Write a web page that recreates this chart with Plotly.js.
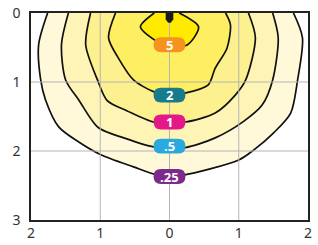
<!DOCTYPE html>
<html>
<head>
<meta charset="utf-8">
<script src="https://cdn.plot.ly/plotly-3.0.1.min.js"></script>
<style>html,body{margin:0;padding:0;background:#fff}#chart{width:318px;height:245px}</style>
</head>
<body>
<div id="chart"></div>
<script>
// ---- data ----
const xTickVals = [-2, -1, 0, 1, 2];
const xTickText = ['2', '1', '0', '1', '2'];
const yTickVals = [0, 1, 2, 3];
const yTickText = ['0', '1', '2', '3'];

const levelNames = ['.25', '.5', '1', '2', '5'];

const c025x = [-1.76, -1.89, -1.86, -1.79, -1.60, -1.31, -1.00, -0.52, -0.17, 0, 0.20, 1.00, 1.21, 1.50, 1.75, 1.85, 1.92, 1.79];
const c025y = [0, 0.46, 0.97, 1.26, 1.65, 1.87, 2.05, 2.23, 2.35, 2.36, 2.35, 2.13, 1.99, 1.74, 1.45, 0.97, 0.36, 0];

const c05x = [-1.46, -1.56, -1.50, -1.31, -1.03, -0.66, -0.23, 0, 0.23, 0.66, 1.07, 1.34, 1.49, 1.57, 1.49];
const c05y = [0, 0.46, 0.97, 1.26, 1.66, 1.81, 1.94, 1.94, 1.95, 1.81, 1.57, 1.33, 0.97, 0.36, 0];

const c1x = [-1.14, -1.21, -1.04, -0.90, -0.61, -0.23, 0, 0.23, 0.66, 0.95, 1.10, 1.24, 1.14];
const c1y = [0, 0.46, 0.97, 1.27, 1.42, 1.58, 1.58, 1.58, 1.45, 1.19, 0.97, 0.36, 0];

const c2x = [-0.78, -0.88, -0.74, -0.52, -0.23, 0, 0.23, 0.56, 0.66, 0.83, 0.88, 0.81];
const c2y = [0, 0.36, 0.65, 0.97, 1.14, 1.19, 1.16, 1.04, 0.80, 0.51, 0.17, 0];

const c5x = [-0.22, -0.42, -0.17, 0, 0.26, 0.42, 0.14];
const c5y = [0, 0.20, 0.42, 0.48, 0.46, 0.20, 0];

const labelX = [0, 0, 0, 0, 0];
const labelY = [2.37, 1.93, 1.58, 1.19, 0.46];

// ---- styles ----
const fillColors = ['#FFF9DA', '#FEF4B6', '#FDF08E', '#FEEE62', '#FFEA00'];
const badgeColors = ['#7D2B8B', '#29A9E0', '#E5188A', '#177B8C', '#F6921E'];

const xs = [c025x, c05x, c1x, c2x, c5x];
const ys = [c025y, c05y, c1y, c2y, c5y];

const traces = xs.map((x, i) => ({
  type: 'scatter', mode: 'lines', x: x, y: ys[i],
  fill: 'toself', fillcolor: fillColors[i],
  line: {color: '#111', width: 1.7, shape: 'spline', smoothing: 0.8},
  hoverinfo: 'skip', showlegend: false, name: levelNames[i]
}));

const shapes = [];
// gridlines drawn over the fills
[-1, 0, 1].forEach(v => shapes.push({type: 'line', xref: 'x', yref: 'paper', x0: v, x1: v, y0: 0, y1: 1, line: {color: '#B4B4B4', width: 1}, layer: 'above'}));
[1, 2].forEach(v => shapes.push({type: 'line', xref: 'paper', yref: 'y', x0: 0, x1: 1, y0: v, y1: v, line: {color: '#B4B4B4', width: 1}, layer: 'above'}));

// badge sizes in axis units (approx 32px x 15px)
const hw = 0.23, hh = 0.108, rx = 0.108;
labelY.forEach((cy, i) => {
  const cx = labelX[i];
  const x0 = cx - hw, x1 = cx + hw, y0 = cy - hh, y1 = cy + hh;
  const p = `M ${x0 + rx} ${y0} L ${x1 - rx} ${y0} Q ${x1} ${y0} ${x1} ${cy} Q ${x1} ${y1} ${x1 - rx} ${y1} ` +
            `L ${x0 + rx} ${y1} Q ${x0} ${y1} ${x0} ${cy} Q ${x0} ${y0} ${x0 + rx} ${y0} Z`;
  shapes.push({type: 'path', xref: 'x', yref: 'y', path: p, fillcolor: badgeColors[i], line: {width: 0}, layer: 'above'});
});
// luminaire icon at origin
shapes.push({type: 'path', xref: 'x', yref: 'y',
  path: 'M -0.055 0 L 0.055 0 L 0.055 0.09 L 0.02 0.14 L -0.02 0.14 L -0.055 0.09 Z',
  fillcolor: '#1a1a1a', line: {width: 0}, layer: 'above'});

const annotations = labelY.map((cy, i) => ({
  x: labelX[i], y: cy, xref: 'x', yref: 'y', text: '<b>' + levelNames[i] + '</b>',
  showarrow: false, font: {family: 'Open Sans, sans-serif', size: 13, color: '#ffffff'},
  xanchor: 'center', yanchor: 'middle'
}));

const layout = {
  width: 318, height: 245,
  margin: {l: 31, r: 10, t: 13, b: 25},
  paper_bgcolor: '#ffffff', plot_bgcolor: '#ffffff',
  xaxis: {range: [-2, 2], tickvals: xTickVals, ticktext: xTickText, showgrid: false, zeroline: false,
          showline: true, mirror: true, linecolor: '#222', linewidth: 1.6, ticks: '',
          tickfont: {family: 'Noto Sans, sans-serif', size: 14, color: '#333'}, fixedrange: true},
  yaxis: {range: [3, 0], tickvals: yTickVals, ticktext: yTickText, showgrid: false, zeroline: false,
          showline: true, mirror: true, linecolor: '#222', linewidth: 1.6, ticks: '', ticklabelstandoff: 6,
          tickfont: {family: 'Noto Sans, sans-serif', size: 14, color: '#333'}, fixedrange: true},
  shapes: shapes, annotations: annotations, showlegend: false
};

Plotly.newPlot('chart', traces, layout, {displayModeBar: false, staticPlot: true});
</script>
</body>
</html>
